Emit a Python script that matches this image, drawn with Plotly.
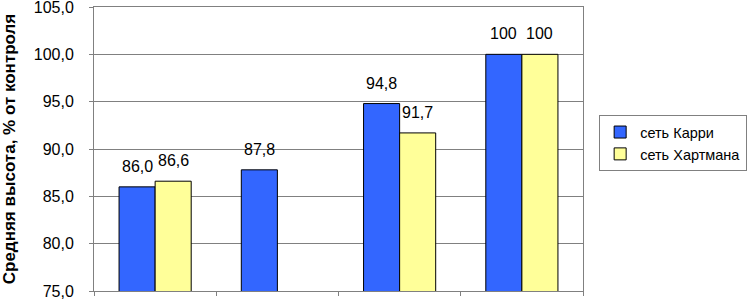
import plotly.graph_objects as go

categories = ["1", "2", "3", "4"]
curry = [86.0, 87.8, 94.8, 100]
hartmann = [86.6, None, 91.7, 100]
curry_labels = ["86,0", "87,8", "94,8", "100"]
hartmann_labels = ["86,6", "", "91,7", "100"]
y_ticks = [75, 80, 85, 90, 95, 100, 105]
y_tick_labels = ["75,0", "80,0", "85,0", "90,0", "95,0", "100,0", "105,0"]

font = "Liberation Sans, Arial, sans-serif"

fig = go.Figure()
fig.add_trace(go.Bar(
    x=categories, y=curry, name="сеть Карри",
    marker=dict(color="#3366FF", line=dict(color="#000000", width=1)),
))
fig.add_trace(go.Bar(
    x=categories, y=hartmann, name="сеть Хартмана",
    marker=dict(color="#FFFF99", line=dict(color="#000000", width=1)),
))

annotations = []
for series, labels, shift in ((curry, curry_labels, -18), (hartmann, hartmann_labels, 18)):
    for idx, (val, lbl) in enumerate(zip(series, labels)):
        if val is None or not lbl:
            continue
        annotations.append(dict(
            x=idx, y=val, xref="x", yref="y", text=lbl, showarrow=False,
            xshift=shift, yshift=10, yanchor="bottom",
            font=dict(family=font, size=16, color="#000000"),
        ))

fig.update_layout(
    width=748, height=299,
    margin=dict(l=94, r=165, t=7, b=8, autoexpand=False),
    paper_bgcolor="white", plot_bgcolor="white",
    barmode="group", bargap=0.41, bargroupgap=0,
    font=dict(family=font, size=16, color="#000000"),
    showlegend=True,
    annotations=annotations,
    legend=dict(
        xref="container", yref="container",
        x=0.801, y=0.615, xanchor="left", yanchor="top",
        bordercolor="#808080", borderwidth=1,
        font=dict(family=font, size=14.5, color="#000000"),
        tracegroupgap=0, itemwidth=30,
    ),
    xaxis=dict(
        type="category", showticklabels=False,
        ticks="outside", tickson="boundaries", ticklen=4, tickcolor="#808080",
        showline=True, linecolor="#808080", linewidth=1, mirror=True,
        showgrid=False, automargin=False,
    ),
    yaxis=dict(
        range=[75, 105], tickvals=y_ticks, ticktext=y_tick_labels,
        ticks="outside", ticklen=4, tickcolor="#808080", ticklabelstandoff=12,
        ticklabeloverflow="allow",
        showline=True, linecolor="#808080", linewidth=1, mirror=True,
        showgrid=True, gridcolor="#808080", gridwidth=1,
        tickfont=dict(family=font, size=16, color="#000000"),
        title=dict(text="<b>Средняя высота, % от контроля</b>",
                   font=dict(family=font, size=17, color="#000000"), standoff=14),
        zeroline=False, automargin=False,
    ),
)

fig.write_html("out.html", config={"displayModeBar": False},
               post_script="document.body.style.margin='0';")
